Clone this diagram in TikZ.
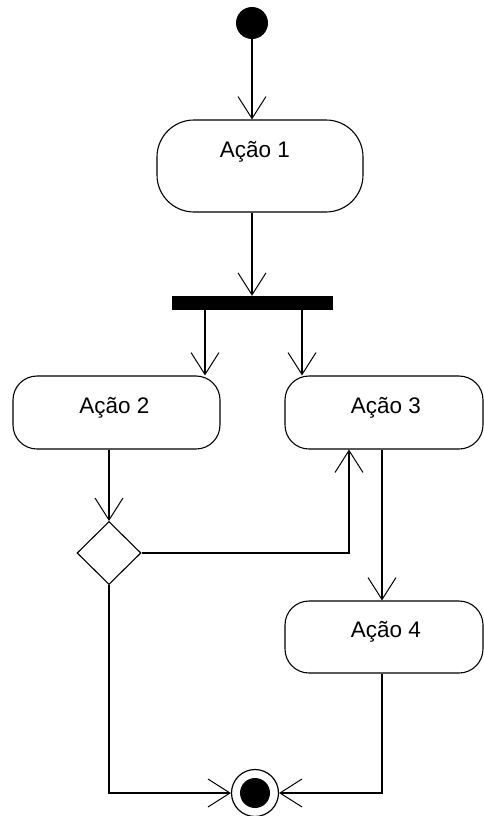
\documentclass[tikz,border=0pt]{standalone}
\usepackage{fontspec}
\setmainfont{Liberation Sans}
\usetikzlibrary{arrows.meta,shapes.geometric}
\begin{document}
\begin{tikzpicture}[x=1pt,y=-1pt,
  arr/.style={line width=1.1pt,-{Straight Barb[length=22pt,width=28pt,line width=1pt]}},
  action/.style={draw,line width=1.1pt,rectangle,rounded corners=24pt,inner sep=0pt,fill=white},
  lbl/.style={font=\fontsize{22.5}{27}\selectfont}
]
\useasboundingbox (0,0) rectangle (484,816);
\node[circle,fill=black,minimum size=32pt,inner sep=0pt] (start) at (252,23) {};
\node[action,rounded corners=37pt,minimum width=206pt,minimum height=92pt,
  label={[lbl,yshift=14pt,xshift=-5pt]center:Ação 1}] (a1) at (260,166) {};
\node[fill=black,minimum width=161pt,minimum height=14pt,inner sep=0pt] (fork) at (252.5,303) {};
\node[action,minimum width=207pt,minimum height=73pt,
  label={[lbl,yshift=4.5pt,xshift=-2pt]center:Ação 2}] (a2) at (116.5,412.5) {};
\node[action,minimum width=198pt,minimum height=73pt,
  label={[lbl,yshift=4.5pt,xshift=2pt]center:Ação 3}] (a3) at (384,412.5) {};
\node[action,minimum width=198pt,minimum height=72pt,
  label={[lbl,yshift=5pt,xshift=2pt]center:Ação 4}] (a4) at (384,637) {};
\node[diamond,draw,line width=1.1pt,minimum width=64pt,minimum height=63pt,inner sep=0pt] (dec) at (109,553) {};
\node[circle,draw,line width=1.2pt,minimum size=47pt,inner sep=0pt,
  path picture={\fill[black] (path picture bounding box.center) circle (15pt);}] (end) at (255,793) {};
\coordinate (x1) at (205,0);
\coordinate (x2) at (302,0);
\coordinate (x3) at (349,0);
\coordinate (x4) at (382,0);
\draw[arr] (start) -- (start |- a1.north);
\draw[arr] (a1.south -| start) -- (start |- fork.north);
\draw[arr] (fork.south -| x1) -- (a2.north -| x1);
\draw[arr] (fork.south -| x2) -- (a3.north -| x2);
\draw[arr] (a2.south -| dec) -- (dec.north);
\draw[arr] (dec.east) -| (a3.south -| x3);
\draw[arr] (a3.south -| x4) -- (a4.north -| x4);
\draw[arr] (dec.south) |- (end.west);
\draw[arr] (a4.south -| x4) |- (end.east);
\end{tikzpicture}
\end{document}
